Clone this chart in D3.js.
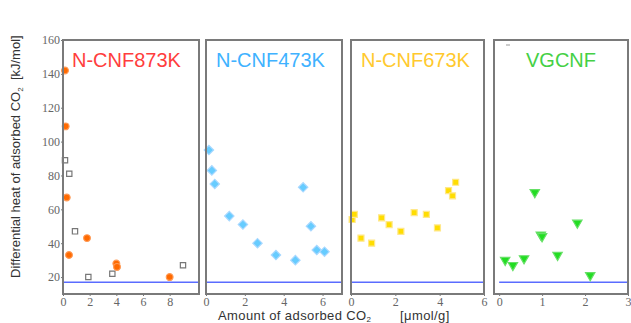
<!DOCTYPE html>
<html>
<head>
<meta charset="utf-8">
<script src="https://cdn.jsdelivr.net/npm/d3@7"></script>
<style>
  body { margin: 0; background: #fff; }
</style>
</head>
<body>
<div id="chart"></div>
<script>
// Data: [amount of adsorbed CO2 (umol/g), differential heat (kJ/mol)]
let cnf873Filled = [[0.15, 142], [0.2, 109], [0.28, 67], [0.45, 33], [1.8, 43], [4.0, 28], [4.05, 26], [8.0, 20]];
let cnf873Open = [[0.15, 89], [0.47, 81], [0.9, 47], [1.9, 20], [3.7, 22], [9.0, 27]];
let cnf473 = [[0.15, 95], [0.3, 83], [0.45, 75], [1.2, 56], [1.9, 51], [2.65, 40], [3.6, 33],
              [4.6, 30], [5.0, 73], [5.4, 50], [5.7, 36], [6.1, 35]];
let cnf673 = [[0.05, 54], [0.15, 57], [0.45, 43], [0.93, 40], [1.38, 55], [1.72, 51], [2.25, 47],
              [2.85, 58], [3.4, 57], [3.9, 49], [4.4, 71], [4.58, 68], [4.72, 76]];
let vgcnf = [[0.14, 30], [0.32, 27], [0.58, 31], [0.83, 70], [0.97, 45], [1.0, 44], [1.36, 33], [1.82, 52], [2.12, 21]];

let panelNames = ["N-CNF873K", "N-CNF473K", "N-CNF673K", "VGCNF"];
let xDomains = [[0, 10.2], [0, 7], [0, 6], [-0.12, 3]];
let xTicks = [[0, 2, 4, 6, 8], [0, 2, 4, 6], [0, 2, 4, 6], [0, 1, 2, 3]];
let yTicks = [20, 40, 60, 80, 100, 120, 140, 160];
let liquefactionHeat = 17;

// Layout
let width = 631, height = 323;
let plotTop = 40, plotBottom = 294;
let panelLeft = [63, 206, 351, 494];
let panelRight = [199, 342, 484, 628];
let titleOffset = [9, 10, 10, 32];
let titleColor = ["#ff3d3d", "#40b2ff", "#ffc92e", "#45d045"];

let svg = d3.select("#chart").append("svg")
    .attr("width", width)
    .attr("height", height);

let y = d3.scaleLinear().domain([10, 160]).range([plotBottom, plotTop]);

let series = [
    [{data: cnf873Open, type: d3.symbolSquare, size: 28, fill: "#fff", stroke: "#777", rot: 0},
     {data: cnf873Filled, type: d3.symbolCircle, size: 36, fill: "#ff6a00", stroke: "#ff9a55", rot: 0}],
    [{data: cnf473, type: d3.symbolSquare, size: 44, fill: "#66ccff", stroke: "#a9d8ff", rot: 45}],
    [{data: cnf673, type: d3.symbolSquare, size: 36, fill: "#ffdd00", stroke: "#ffe88a", rot: 0}],
    [{data: vgcnf, type: d3.symbolTriangle, size: 38, fill: "#22dd22", stroke: "#66e066", rot: 180}]
];

// tick label styling shared by both axes
function styleAxis(a) {
    a.select(".domain").remove();
    a.attr("font-family", "Liberation Serif, serif");
    a.selectAll(".tick line").attr("stroke", "#777");
    a.selectAll(".tick text").attr("font-size", 12).attr("fill", "#666");
}

panelNames.forEach(function(name, i) {
    let x = d3.scaleLinear().domain(xDomains[i]).range([panelLeft[i], panelRight[i]]);
    let g = svg.append("g");

    // blue reference line
    g.append("line")
        .attr("x1", x(Math.max(0, xDomains[i][0])))
        .attr("x2", x(xDomains[i][1]) - 1)
        .attr("y1", y(liquefactionHeat))
        .attr("y2", y(liquefactionHeat))
        .attr("stroke", "#5a6cff")
        .attr("stroke-width", 1.5);

    // x axis
    g.append("g")
        .attr("transform", "translate(0," + plotBottom + ")")
        .call(d3.axisBottom(x).tickValues(xTicks[i]).tickSize(2).tickPadding(1).tickFormat(d3.format("d")))
        .call(styleAxis);

    // y axis only on first panel
    if (i === 0) {
        g.append("g")
            .attr("transform", "translate(" + panelLeft[i] + ",0)")
            .call(d3.axisLeft(y).tickValues(yTicks).tickSize(2).tickPadding(1))
            .call(styleAxis);
    }

    // marks
    series[i].forEach(function(s) {
        g.selectAll(null)
            .data(s.data)
            .enter().append("path")
            .attr("d", d3.symbol().type(s.type).size(s.size))
            .attr("transform", d => "translate(" + x(d[0]) + "," + y(d[1]) + ") rotate(" + s.rot + ")")
            .attr("fill", s.fill)
            .attr("stroke", s.stroke)
            .attr("stroke-width", 1.2);
    });

    // frame
    g.append("rect")
        .attr("x", panelLeft[i])
        .attr("y", plotTop)
        .attr("width", panelRight[i] - panelLeft[i])
        .attr("height", plotBottom - plotTop)
        .attr("fill", "none")
        .attr("stroke", "#7a7a7a")
        .attr("stroke-width", 2);

    // title
    g.append("text")
        .attr("x", panelLeft[i] + titleOffset[i])
        .attr("y", 67)
        .attr("font-family", "Liberation Sans, Arial, sans-serif")
        .attr("font-size", 20)
        .attr("fill", titleColor[i])
        .text(name);
});

// small stray mark in the VGCNF panel
svg.append("line")
    .attr("x1", 506).attr("x2", 510)
    .attr("y1", 45).attr("y2", 45)
    .attr("stroke", "#999");

// axis titles
let yTitle = svg.append("text")
    .attr("transform", "translate(20,278) rotate(-90)")
    .attr("text-anchor", "start")
    .attr("font-family", "Liberation Sans, Arial, sans-serif")
    .attr("font-size", 13)
    .attr("fill", "#333");
yTitle.append("tspan").text("Differential heat of adsorbed CO");
yTitle.append("tspan").attr("font-size", 8).attr("dy", 3).text("2");
yTitle.append("tspan").attr("dy", -3).text("\u00a0\u00a0[kJ/mol]");

let xTitle = svg.append("text")
    .attr("y", 320)
    .attr("font-family", "Liberation Sans, Arial, sans-serif")
    .attr("font-size", 13)
    .attr("letter-spacing", 0.4)
    .attr("fill", "#333");
xTitle.append("tspan").attr("x", 218).text("Amount of adsorbed CO");
xTitle.append("tspan").attr("font-size", 8).attr("dy", 2).text("2");
xTitle.append("tspan").attr("x", 400).attr("dy", -2).text("[\u03bcmol/g]");
</script>
</body>
</html>
